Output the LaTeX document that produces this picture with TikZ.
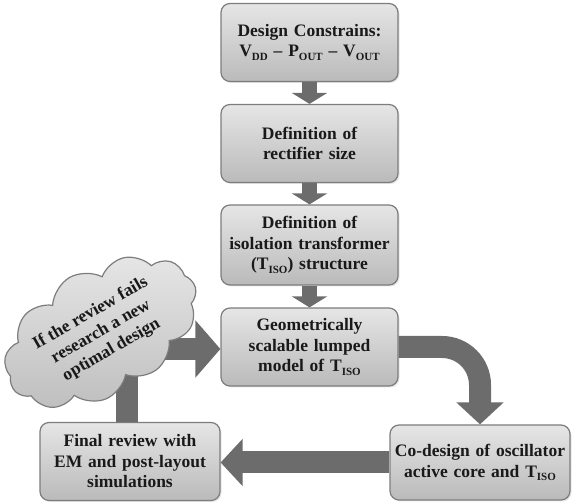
\documentclass[tikz,border=0pt]{standalone}
\usepackage{fontspec}
\setmainfont{Liberation Serif}
\usetikzlibrary{arrows.meta, shapes.symbols, shadows}
\definecolor{boxedge}{RGB}{125,125,125}
\definecolor{arrowfill}{RGB}{108,108,108}
\newcommand{\lowtext}[1]{\raisebox{-0.45ex}{\fontsize{11}{11}\selectfont #1}}
\tikzset{
flow box/.style = {rectangle, draw = boxedge, line width = 1.2pt, top color = black!10, bottom color = black!27, rounded corners = 9pt, minimum width = 177pt, minimum height = 78pt, text width = 172pt, align = center, inner sep = 2pt, font = \fontsize{17.5}{20.5}\selectfont\bfseries, text = black!90, drop shadow = {opacity = 0.2, shadow xshift = 1.5pt, shadow yshift = -1.5pt}},
review cloud/.style = {cloud, cloud puffs = 11, cloud puff arc = 115, aspect = 1.8, draw = boxedge, line width = 1.2pt, top color = black!10, bottom color = black!25, minimum width = 210pt, minimum height = 122pt, align = center, inner sep = 0pt, font = \fontsize{17.5}{21}\selectfont\bfseries, text = black!90},
small arrow/.style = {draw = arrowfill, line width = 15pt, -{Triangle[width = 35pt, length = 11pt]}},
big arrow/.style = {draw = arrowfill, line width = 22pt, -{Triangle[width = 46pt, length = 22pt]}},
}

\begin{document}
\begin{tikzpicture}[x = 1pt, y = 1pt]
    \useasboundingbox (0, 0) rectangle (572, 502);
    \node[flow box] (constraints) at (309.5, 459.5) {Design Constrains:\\ V\lowtext{DD} -- P\lowtext{OUT} -- V\lowtext{OUT}};
    \node[flow box] (rectifier) at (309.5, 358.5) {Definition of\\ rectifier size};
    \node[flow box, minimum height = 80pt] (isolation) at (309.5, 257) {Definition of\\ isolation transformer\\ (T\lowtext{ISO}) structure};
    \node[flow box] (lumped) at (309.5, 155) {Geometrically\\ scalable lumped\\ model of T\lowtext{ISO}};
    \node[flow box, minimum width = 180pt, minimum height = 75pt] (codesign) at (480, 39.5) {Co-design of oscillator\\ active core and T\lowtext{ISO}};
    \node[flow box, minimum width = 180pt] (review) at (130, 40.5) {Final review with\\ EM and post-layout\\ simulations};
    % arrows down the chain
    \draw[small arrow] (constraints) -- (rectifier);
    \draw[small arrow] (rectifier) -- (isolation);
    \draw[small arrow] (isolation) -- (lumped);
    \draw[big arrow, rounded corners = 38pt] (lumped.east) -| (codesign.north);
    \draw[big arrow] (codesign.west) -- (review.east |- codesign.west);
    % feedback path, partly hidden by the cloud
    \draw[big arrow, -{Triangle[width = 56pt, length = 25pt]}] (review.north -| 127, 0) |- (lumped.west |- 0, 153);
    \node[review cloud, rotate = 30] (fails) at (101, 170) {If the review fails\\ research a new\\ optimal design};
\end{tikzpicture}
\end{document}
